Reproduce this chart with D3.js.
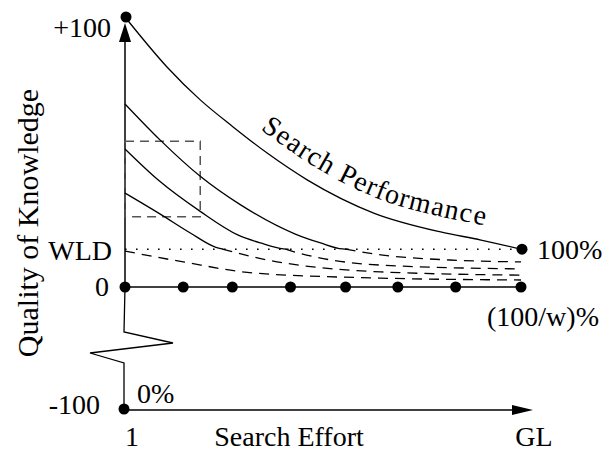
<!DOCTYPE html>
<html><head><meta charset="utf-8">
<script src="https://cdn.jsdelivr.net/npm/d3@7"></script>
<style>
body{margin:0;background:#fff}
text{font-family:"Liberation Serif","Times New Roman",serif;fill:#000}
</style></head>
<body><svg id="c" width="603" height="452"></svg>
<script>
// ---- data (x: search effort in % of GL, y: quality of knowledge) ----
const WLD = 14;
const searchPerf = [[0,100],[10.6,81.5],[19,69.3],[27.3,59.3],[35.9,49.6],[46.1,39.6],[62.8,27.4],[79.7,20.4],[89.9,17.4],[100,14]];
const curveA = [[0,67.8],[8.9,54.4],[19,41],[29.1,30.5],[43,19.6],[49.4,16.3],[54.9,14.1],[56.5,14]];
const curveB = [[0,51.1],[8.4,39.6],[19,28],[28.6,19.2],[34.2,16.3],[40,14.1],[41.3,14]];
const curveC = [[0,34.8],[8.9,27],[16.5,20],[22.8,14.8],[24.8,14]];
const dashD1 = [[55.7,14],[64.6,11.9],[82,10],[100,9.3]];
const dashD2 = [[40.5,14],[43.8,12.6],[64.6,8.1],[100,6.7]];
const dashD3 = [[24.6,14],[33.7,10.7],[64.6,5.6],[100,4.4]];
const dashD4 = [[0,13.3],[14.7,9.3],[32.4,5.2],[64.6,3.3],[100,2.6]];
const effortDots = [0,14.7,27.1,41.8,55.7,68.9,83.5,100];
const zoomBox = {x0:0, x1:19, y0:26, y1:54};
const yTickLabels = [{v:100,t:"+100"},{v:WLD,t:"WLD"},{v:0,t:"0"},{v:-100,t:"-100"}];
const xTickLabels = [{v:0,t:"1"},{v:100,t:"GL"}];

const svg = d3.select("#c");
const x = d3.scaleLinear().domain([0,100]).range([125,521]);
const y = d3.scaleLinear().domain([-100,0,100]).range([409,287,17]);
const FS = 28;

const line = d3.line().x(d=>x(d[0])).y(d=>y(d[1])).curve(d3.curveMonotoneX);

// y axis (upper part) with arrow
const ax = x(0);
svg.append("line").attr("x1",ax).attr("x2",ax).attr("y1",y(0)).attr("y2",y(100)+20).attr("stroke","#000").attr("stroke-width",1.5);
svg.append("path").attr("d",`M${ax},${y(100)+6}L${ax-6},${y(100)+25}L${ax+6},${y(100)+25}Z`).attr("fill","#000");
// broken lower part
const yb1 = y(0)+45, yb2 = y(0)+76;
svg.append("path").attr("fill","none").attr("stroke","#000").attr("stroke-width",1.3)
  .attr("d",`M${ax},${y(0)}L${ax-1},${yb1}L${ax+48},${yb1+11}L${ax-35},${yb1+21}L${ax-1},${yb2}L${ax-1},${y(-100)}`);
// x axis bottom with arrow
svg.append("line").attr("x1",ax-1).attr("x2",x(100)+0).attr("y1",y(-100)+1).attr("y2",y(-100)+1).attr("stroke","#000").attr("stroke-width",1.5);
svg.append("path").attr("d",`M${x(100)+12},${y(-100)+1}L${x(100)-9},${y(-100)-4}L${x(100)-9},${y(-100)+6}Z`).attr("fill","#000");

// zero line
svg.append("line").attr("x1",x(0)).attr("x2",x(100)).attr("y1",y(0)).attr("y2",y(0)).attr("stroke","#000").attr("stroke-width",1.3);
// WLD dotted
svg.append("line").attr("x1",x(0)).attr("x2",x(100)).attr("y1",y(WLD)).attr("y2",y(WLD)).attr("stroke","#000").attr("stroke-width",1.6).attr("stroke-dasharray","1.6,9.4");

// zoom box
svg.append("rect").attr("x",x(zoomBox.x0)).attr("y",y(zoomBox.y1)).attr("width",x(zoomBox.x1)-x(zoomBox.x0)).attr("height",y(zoomBox.y0)-y(zoomBox.y1))
  .attr("fill","none").attr("stroke","#555").attr("stroke-width",1.5).attr("stroke-dasharray","9,6");

// curves
const sp = svg.append("path").attr("id","spPath").attr("d",line(searchPerf)).attr("fill","none").attr("stroke","#000").attr("stroke-width",1.3);
[curveA,curveB,curveC].forEach(c=>svg.append("path").attr("d",line(c)).attr("fill","none").attr("stroke","#000").attr("stroke-width",1.3));
[dashD1,dashD2,dashD3,dashD4].forEach(c=>svg.append("path").attr("d",line(c)).attr("fill","none").attr("stroke","#000").attr("stroke-width",1.3).attr("stroke-dasharray","10,7"));

// dots
svg.selectAll(".zd").data(effortDots).enter().append("circle").attr("cx",d=>x(d)).attr("cy",y(0)).attr("r",5.5).attr("fill","#000");
svg.append("circle").attr("cx",x(0)+1).attr("cy",y(100)).attr("r",5.5).attr("fill","#000");
svg.append("circle").attr("cx",x(100)+1).attr("cy",y(searchPerf[searchPerf.length-1][1])).attr("r",5.5).attr("fill","#000");
svg.append("circle").attr("cx",x(0)-1).attr("cy",y(-100)).attr("r",5.5).attr("fill","#000");

// y labels
const yOff = {"+100":[-14,20],"WLD":[-13,11],"0":[-16,9],"-100":[-25,5]};
svg.selectAll(".yl").data(yTickLabels).enter().append("text")
  .attr("x",d=>x(0)+yOff[d.t][0]).attr("y",d=>y(d.v)+yOff[d.t][1]).attr("text-anchor","end").attr("font-size",FS).text(d=>d.t);
// x labels
svg.selectAll(".xl").data(xTickLabels).enter().append("text")
  .attr("x",d=>d.v===0?x(d.v)+7:x(d.v)+13).attr("y",446).attr("text-anchor","middle").attr("font-size",FS).text(d=>d.t);
svg.append("text").attr("x",289).attr("y",446).attr("text-anchor","middle").attr("font-size",FS).text("Search Effort");
svg.append("text").attr("x",x(0)+12).attr("y",y(-100)-6).attr("font-size",FS).text("0%");
svg.append("text").attr("x",x(100)+16).attr("y",y(WLD)+10).attr("font-size",FS).text("100%");
svg.append("text").attr("x",x(100)+78).attr("y",y(0)+39).attr("text-anchor","end").attr("font-size",FS).text("(100/w)%");
svg.append("text").attr("transform","translate(38,223) rotate(-90)").attr("text-anchor","middle").attr("font-size",30).text("Quality of Knowledge");

// Search Performance label along curve
const pnode = sp.node();
const L = pnode.getTotalLength();
let lo=0,hi=L;
for(let i=0;i<40;i++){const m=(lo+hi)/2; if(pnode.getPointAtLength(m).x<360) lo=m; else hi=m;}
svg.append("text").attr("font-size",FS).attr("dy",-15).attr("letter-spacing",1.6)
  .append("textPath").attr("href","#spPath").attr("startOffset",lo).attr("text-anchor","middle").text("Search Performance");
</script></body></html>
